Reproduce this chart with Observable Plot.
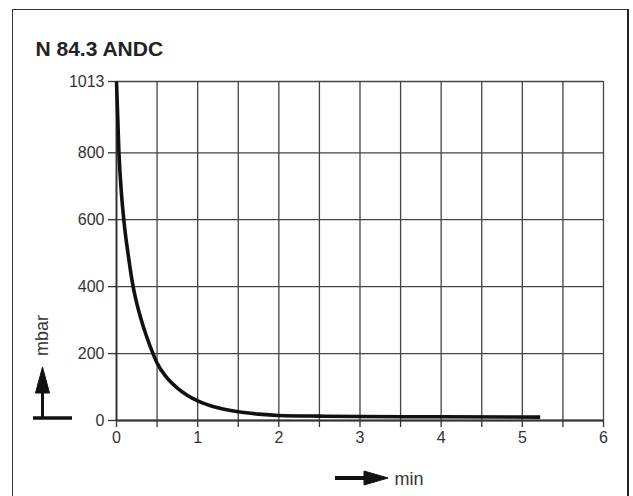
<!DOCTYPE html>
<html>
<head>
<meta charset="utf-8">
<script src="https://cdn.jsdelivr.net/npm/d3@7"></script>
<script src="https://cdn.jsdelivr.net/npm/@observablehq/plot@0.6"></script>
<style>
  html, body { margin: 0; padding: 0; background: #fff; }
  #wrap { position: relative; width: 633px; height: 496px; overflow: hidden; background: #fff; }
  #frame { position: absolute; left: 12px; top: 9px; width: 614px; height: 600px;
           border-top: 1.5px solid #333; border-left: 1.5px solid #333; border-right: 2.5px solid #222; }
  #chart { position: absolute; left: 0; top: 0; }
</style>
</head>
<body>
<div id="wrap"><div id="frame"></div><div id="chart"></div></div>
<script>
// Data
const title = "N 84.3 ANDC";
const times = [0, 0.03, 0.06, 0.09, 0.15, 0.205, 0.25, 0.3, 0.375, 0.45, 0.5, 0.6, 0.75, 0.875, 1, 1.25, 1.5, 1.75, 2, 2.5, 3, 4, 5.22];
const pressure = [1013, 800, 682, 600, 485, 400, 350, 305, 248, 200, 172, 134, 97, 75, 59, 38, 26, 19, 15, 13, 12, 11, 10];
const yTicks = [0, 200, 400, 600, 800, 1013];
const xTicks = [0, 0.5, 1, 1.5, 2, 2.5, 3, 3.5, 4, 4.5, 5, 5.5, 6];
const yUnit = "mbar";
const xUnit = "min";

const data = times.map((t, i) => ({t, p: pressure[i]}));
const font = "'Liberation Sans', Arial, Helvetica, sans-serif";
const gridStyle = {stroke: "#444", strokeOpacity: 1, strokeWidth: 1.3};

const chart = Plot.plot({
  width: 633,
  height: 496,
  marginLeft: 116,
  marginRight: 30,
  marginTop: 81,
  marginBottom: 76,
  x: {domain: [0, 6]},
  y: {domain: [0, 1013]},
  style: {fontFamily: font, color: "#333", background: "transparent", overflow: "visible"},
  marks: [
    Plot.gridX(xTicks, gridStyle),
    Plot.gridY(yTicks, gridStyle),
    Plot.ruleX([0], {stroke: "#333", strokeWidth: 1.8}),
    Plot.ruleY([0], {stroke: "#333", strokeWidth: 1.8}),
    Plot.axisX(xTicks, {tickSize: 7, tickPadding: 4, fontSize: 16, label: null,
      tickFormat: d => Number.isInteger(d) ? String(d) : "", strokeWidth: 1.3}),
    Plot.axisY(yTicks, {tickSize: 8, tickPadding: 4, fontSize: 16, label: null,
      tickFormat: d => String(d), strokeWidth: 1.3}),
    Plot.line(data, {x: "t", y: "p", curve: "monotone-x", stroke: "#111", strokeWidth: 3.6,
      strokeLinecap: "butt", strokeLinejoin: "round"}),
    Plot.text([title], {frameAnchor: "top-left", dx: -81, dy: -26, textAnchor: "start",
      lineAnchor: "bottom", fontSize: 21, fontWeight: "bold", fill: "#222"}),
    Plot.text([yUnit], {frameAnchor: "bottom-left", dx: -74, dy: -85, rotate: -90,
      textAnchor: "middle", lineAnchor: "middle", fontSize: 18, fill: "#333"}),
    Plot.text([xUnit], {frameAnchor: "bottom-left", dx: 278, dy: 59, textAnchor: "start",
      lineAnchor: "middle", fontSize: 18, fill: "#333"})
  ]
});

// Decorative unit arrows in the margins
const svg = d3.select(chart);
const g = svg.append("g").attr("fill", "#111").attr("stroke", "#111");
// vertical (mbar) arrow with base
g.append("line").attr("x1", 33).attr("x2", 72).attr("y1", 418).attr("y2", 418).attr("stroke-width", 3.5);
g.append("line").attr("x1", 42.5).attr("x2", 42.5).attr("y1", 418).attr("y2", 385).attr("stroke-width", 3);
g.append("path").attr("d", "M42.5,367 L35.5,393 L49.5,393 Z").attr("stroke-width", 1);
// horizontal (min) arrow
g.append("line").attr("x1", 335).attr("x2", 368).attr("y1", 478).attr("y2", 478).attr("stroke-width", 4);
g.append("path").attr("d", "M364,471 L388,478 L364,485 Z").attr("stroke-width", 1);

document.getElementById("chart").appendChild(chart);
</script>
</body>
</html>
